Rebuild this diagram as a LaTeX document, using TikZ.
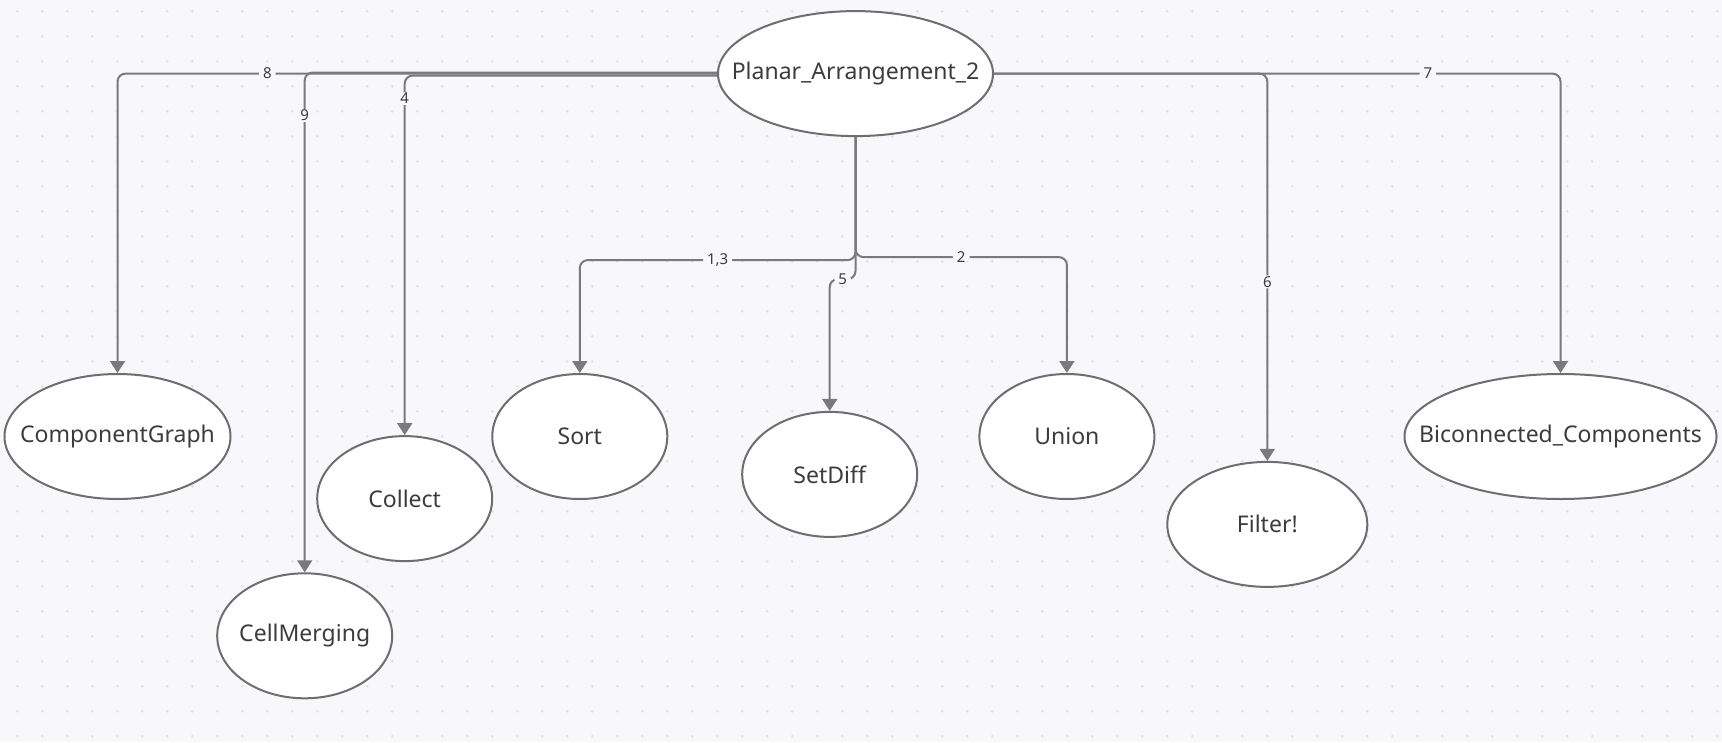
\documentclass[tikz,border=0pt]{standalone}
\usepackage{fontspec}
\setmainfont{Noto Sans}
\usetikzlibrary{shapes.geometric,arrows.meta}
\definecolor{bgc}{HTML}{F8F8FA}
\definecolor{dotc}{HTML}{E0E0E4}
\definecolor{linec}{HTML}{7A7A7A}
\definecolor{bordc}{HTML}{6E6E6E}
\definecolor{txtc}{HTML}{3C3C3C}
\newcommand\nt[1]{\raisebox{-1.5pt}{\makebox[0pt]{#1}}}
\begin{document}
\begin{tikzpicture}[x=1pt,y=-1pt,
  oval/.style={ellipse, draw=bordc, fill=white, line width=2pt, inner sep=0pt,
    minimum height=125pt, minimum width=175pt, text=txtc,
    font=\fontsize{23}{27}\selectfont},
  conn/.style={draw=linec, line width=2pt, rounded corners=8pt,
    -{Triangle[width=15pt,length=12pt]}},
  lbl/.style={fill=bgc, inner xsep=4pt, inner ysep=1pt, text=txtc,
    font=\fontsize{15}{17}\selectfont}]
\fill[bgc] (0,0) rectangle (1722,742);
\useasboundingbox (0,0) rectangle (1722,742);
\foreach \i in {0,...,68}{\foreach \j in {0,...,29}{
  \fill[dotc] (17.3+25*\i,11.3+25*\j) circle (1.4);}}
% nodes
\node[oval, minimum width=275pt] (P) at (855.5,73.6) {\nt{Planar\_Arrangement\_2}};
\node[oval, minimum width=226pt] (CG) at (117.5,436.5) {\nt{ComponentGraph}};
\node[oval] (CM) at (304.7,635.8) {\nt{CellMerging}};
\node[oval] (CO) at (404.7,498.6) {\nt{Collect}};
\node[oval] (S) at (579.8,436.5) {\nt{Sort}};
\node[oval] (SD) at (829.7,474.4) {\nt{SetDiff}};
\node[oval] (U) at (1066.9,436.5) {\nt{Union}};
\node[oval, minimum width=200pt] (F) at (1267.3,524.4) {\nt{Filter!}};
\node[oval, minimum width=312pt] (B) at (1560.5,436.5) {\nt{Biconnected\_Components}};
% connectors
\draw[conn] (P.west) -| node[lbl,pos=0.375]{8} (CG.north);
\draw[conn] ([yshift=1pt]P.west) -| node[lbl,pos=0.543]{9} (CM.north);
\draw[conn] ([yshift=-2pt]P.west) -| node[lbl,pos=0.532]{4} (CO.north);
\draw[conn] (P.east) -| node[lbl,pos=0.383]{7} (B.north);
\draw[conn] (P.east) -| node[lbl,pos=0.769]{6} (F.north);
\draw[conn] (P.south) -- ++(0,123) -| node[lbl,pos=0.25]{1,3} (S.north);
\draw[conn] (P.south) -- ++(0,120) -| node[lbl,pos=0.25]{2} (U.north);
\draw[conn] (P.south) -- ++(0,142) -| node[lbl,pos=0.25]{5} (SD.north);
\end{tikzpicture}
\end{document}
